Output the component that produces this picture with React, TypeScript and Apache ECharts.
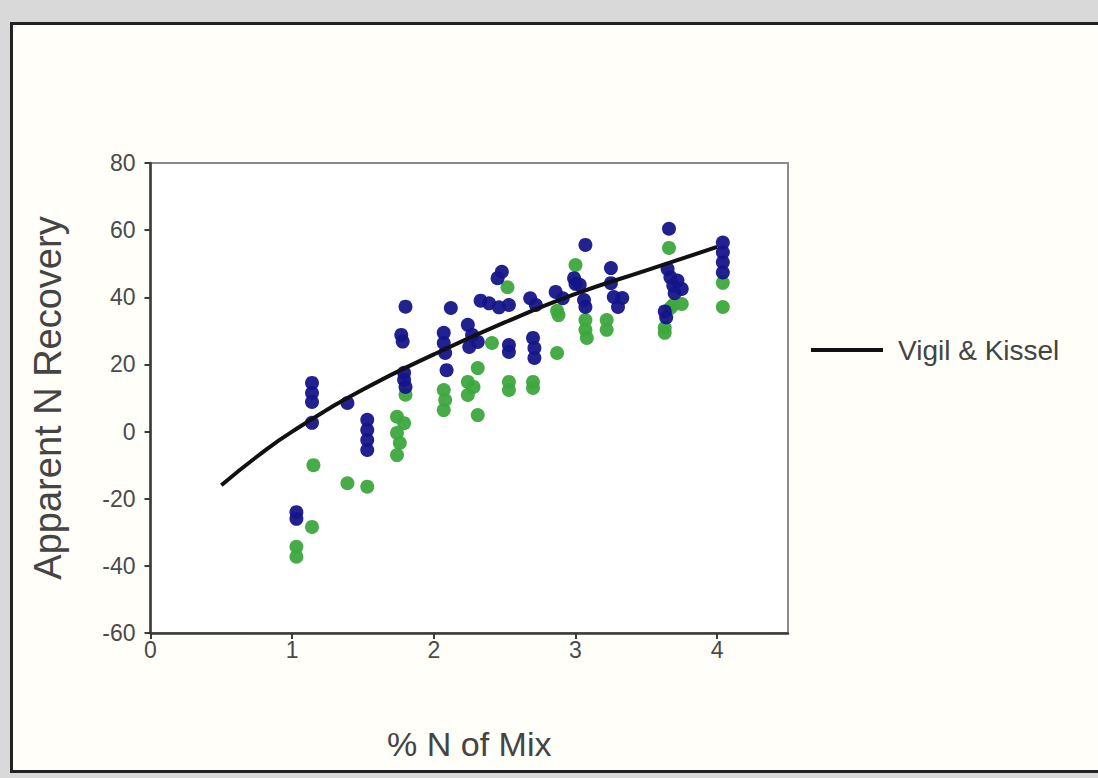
import React, { useEffect, useRef } from "react";
import * as echarts from "echarts";

const xTickValues = [0, 1, 2, 3, 4];

const xTitle = "% N of Mix";
const yTitle = "Apparent N Recovery";
const curveName = "Vigil & Kissel";

// blue observations [% N of mix, apparent N recovery]
const blueSeries: [number, number][] = [
  [1.03, -24], [1.03, -26],
  [1.14, 14.5], [1.14, 11.5], [1.14, 8.8], [1.14, 2.6],
  [1.39, 8.5],
  [1.53, 3.5], [1.53, 0.5], [1.53, -2.5], [1.53, -5.5],
  [1.8, 37.2], [1.77, 28.8], [1.78, 26.8], [1.79, 17.5], [1.79, 15.4], [1.8, 13.3],
  [2.12, 36.8], [2.07, 29.4], [2.07, 26.4], [2.08, 23.4], [2.09, 18.3],
  [2.24, 31.8], [2.27, 28.8], [2.31, 26.7], [2.25, 25.2],
  [2.33, 39], [2.39, 38.2], [2.46, 37], [2.53, 37.7],
  [2.48, 47.6], [2.45, 45.7],
  [2.53, 25.8], [2.53, 23.7],
  [2.68, 39.7], [2.72, 37.7],
  [2.7, 27.9], [2.71, 24.9], [2.71, 21.9],
  [2.86, 41.6], [2.91, 39.7],
  [3.0, 44], [3.07, 55.6],
  [2.99, 45.7], [3.03, 43.7], [3.06, 39.2], [3.07, 37.1],
  [3.25, 48.7], [3.25, 44.2], [3.27, 40.1], [3.3, 37.1], [3.33, 39.8],
  [3.66, 60.4],
  [3.65, 48.4], [3.67, 46], [3.69, 43.5], [3.7, 41.2], [3.72, 45], [3.75, 42.5],
  [3.63, 35.8], [3.64, 34],
  [4.04, 56.3], [4.04, 53.4], [4.04, 50.4], [4.04, 47.4],
];

// green observations [% N of mix, apparent N recovery]
const greenSeries: [number, number][] = [
  [1.14, -28.4], [1.03, -34.3], [1.03, -37.3],
  [1.15, -10],
  [1.39, -15.4], [1.53, -16.4],
  [1.8, 11], [1.74, 4.4], [1.79, 2.5], [1.74, -0.4], [1.76, -3.4], [1.74, -7],
  [2.07, 12.4], [2.08, 9.4], [2.07, 6.4],
  [2.41, 26.4], [2.31, 18.9], [2.24, 14.8], [2.24, 10.9], [2.28, 13.3], [2.31, 4.9],
  [2.53, 14.8], [2.53, 12.4],
  [2.7, 14.8], [2.7, 13],
  [2.87, 23.4], [2.88, 34.7], [2.87, 36],
  [2.52, 43],
  [3.0, 49.6],
  [3.07, 33.2], [3.07, 30.3], [3.08, 27.9],
  [3.22, 33.2], [3.22, 30.3],
  [3.66, 54.7], [3.69, 37.7], [3.67, 36.8], [3.63, 30.9], [3.63, 29.4], [3.75, 38],
  [4.04, 44.3], [4.04, 37.1],
];

// fitted curve
const curveX = [0.5, 0.75, 1, 1.5, 2, 2.5, 3, 3.5, 4];
const curveY = [-16, -7.5, 0, 12.5, 23, 32.5, 41, 48, 55];

const FONT = "'Liberation Sans', Arial, Helvetica, sans-serif";

export default function App() {
  const ref = useRef<HTMLDivElement>(null);

  useEffect(() => {
    if (!ref.current) return;
    const chart = echarts.init(ref.current, null, { renderer: "svg" });
    chart.setOption({
      animation: false,
      backgroundColor: "#d9d9d9",
      textStyle: { fontFamily: FONT },
      graphic: [
        {
          type: "rect",
          z: -10,
          shape: { x: 11.5, y: 23.5, width: 1100, height: 748 },
          style: { fill: "#fffef8", stroke: "#222222", lineWidth: 3 },
        },
      ],
      grid: {
        left: 150.5,
        top: 163,
        width: 637.5,
        height: 470,
        show: true,
        backgroundColor: "#ffffff",
        borderColor: "#8a8a8a",
        borderWidth: 2,
      },
      legend: {
        show: true,
        data: [{ name: curveName, icon: "rect" }],
        left: 806,
        top: 331,
        itemWidth: 72,
        itemHeight: 4,
        textStyle: { fontSize: 28, color: "#444444", fontFamily: FONT, padding: [0, 0, 0, 10] },
      },
      xAxis: {
        type: "value",
        min: 0,
        max: 4.5,
        interval: 1,
        name: xTitle,
        nameLocation: "middle",
        nameGap: 94,
        nameTextStyle: { fontSize: 34, color: "#444444", fontFamily: FONT },
        axisLine: { show: true, onZero: false, lineStyle: { color: "#3a3a3a", width: 2.5 } },
        axisTick: { show: true, length: 6, customValues: xTickValues, lineStyle: { color: "#3a3a3a", width: 2 } },
        axisLabel: { customValues: xTickValues, fontSize: 23, color: "#4a4a4a", margin: 5 },
        splitLine: { show: false },
      },
      yAxis: {
        type: "value",
        min: -60,
        max: 80,
        interval: 20,
        name: yTitle,
        nameLocation: "middle",
        nameGap: 84,
        nameTextStyle: { fontSize: 38, color: "#444444", fontFamily: FONT },
        axisLine: { show: true, onZero: false, lineStyle: { color: "#3a3a3a", width: 2.5 } },
        axisTick: { show: true, length: 6, lineStyle: { color: "#3a3a3a", width: 2 } },
        axisLabel: { fontSize: 23, color: "#4a4a4a", margin: 15 },
        splitLine: { show: false },
      },
      series: [
        {
          name: "green",
          type: "scatter",
          symbol: "circle",
          symbolSize: 14,
          itemStyle: { color: "#3da83d", opacity: 0.95 },
          data: greenSeries,
          z: 2,
        },
        {
          name: "blue",
          type: "scatter",
          symbol: "circle",
          symbolSize: 14,
          itemStyle: { color: "#15158a", opacity: 0.95 },
          data: blueSeries,
          z: 3,
        },
        {
          name: curveName,
          type: "line",
          smooth: true,
          symbol: "none",
          showSymbol: false,
          lineStyle: { color: "#111111", width: 4 },
          itemStyle: { color: "#111111" },
          data: curveX.map((x, i) => [x, curveY[i]]),
          z: 4,
        },
      ],
    });
    return () => chart.dispose();
  }, []);

  return (
    <div
      ref={ref}
      style={{ position: "fixed", left: 0, top: 0, width: 1098, height: 778 }}
    />
  );
}
